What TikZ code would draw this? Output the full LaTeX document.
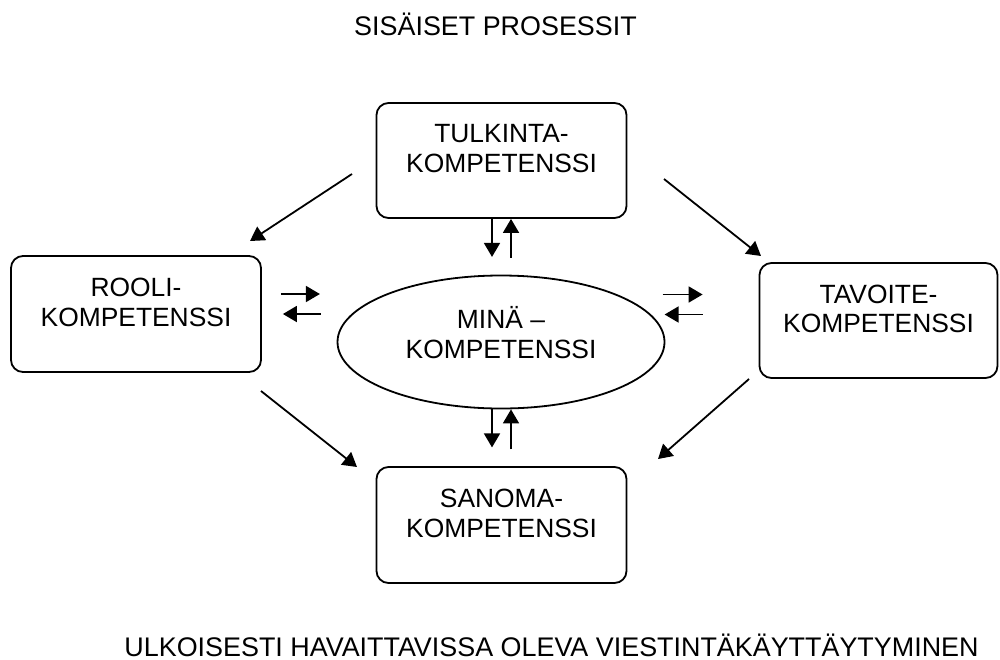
\documentclass[tikz,border=0pt]{standalone}
\usepackage{fontspec}
\setmainfont{Liberation Sans}
\usetikzlibrary{shapes.geometric,arrows.meta}

\begin{document}
\begin{tikzpicture}[x=0.5pt,y=-0.5pt]
\tikzset{kbox/.style = {draw, rounded corners=6pt, line width=0.9pt, align=center, inner sep=0pt, font=\fontsize{13.2}{14.8}\selectfont},
  arr/.style = {line width=0.9pt, -{Triangle[length=7pt,width=8pt]}},
  plain/.style = {inner sep=0pt, font=\fontsize{13.45}{15}\selectfont}}

\useasboundingbox (0,0) rectangle (1000,659);

\node[plain,anchor=base] (sisaiset) at (495.5,35) {SISÄISET PROSESSIT};
\node[plain,anchor=base] (ulkoiset) at (551.5,656) {ULKOISESTI HAVAITTAVISSA OLEVA VIESTINTÄKÄYTTÄYTYMINEN};

\node[kbox,minimum width=125pt,minimum height=57.5pt] (tulkinta) at (501.5,160.5) {TULKINTA-\\KOMPETENSSI\\[-3pt]\mbox{}};
\node[kbox,minimum width=125pt,minimum height=58pt] (rooli) at (136,314) {ROOLI-\\KOMPETENSSI\\[-3pt]\mbox{}};
\node[kbox,minimum width=119pt,minimum height=57.5pt] (tavoite) at (878.5,320.5) {TAVOITE-\\KOMPETENSSI\\[-3pt]\mbox{}};
\node[kbox,minimum width=125pt,minimum height=58pt] (sanoma) at (501.5,525) {SANOMA-\\KOMPETENSSI\\[-3pt]\mbox{}};
\node[kbox,ellipse,sharp corners,minimum width=163.5pt,minimum height=66.5pt] (mina) at (501,342) {MINÄ –\\KOMPETENSSI\\[-5.5pt]\mbox{}};

% diagonal arrows
\coordinate (tr1) at (352,174); \coordinate (tr2) at (250,241);
\coordinate (tt1) at (664,179); \coordinate (tt2) at (761,256);
\coordinate (rs1) at (261,391); \coordinate (rs2) at (357,467);
\coordinate (ts1) at (749,379); \coordinate (ts2) at (658,459);
\draw[arr] (tr1) -- (tr2);
\draw[arr] (tt1) -- (tt2);
\draw[arr] (rs1) -- (rs2);
\draw[arr] (ts1) -- (ts2);

% pairs to and from the ellipse
\draw[arr] ([xshift=-4.75pt]tulkinta.south) -- ++(0,38);
\draw[arr] ([xshift=4.75pt]tulkinta.south) ++(0,39) -- ++(0,-39);
\draw[arr] ([xshift=-4.5pt]mina.south) -- ++(0,38);
\draw[arr] ([xshift=5pt]mina.south) ++(0,40) -- ++(0,-40);
\draw[arr] ([yshift=10pt]rooli.east) ++(19,0) -- ++(39,0);
\draw[arr] ([yshift=0pt]rooli.east) ++(59,0) -- ++(-38,0);
\draw[arr] ([yshift=13pt]tavoite.west) ++(-96,0) -- ++(40,0);
\draw[arr] ([yshift=3pt]tavoite.west) ++(-56,0) -- ++(-38,0);
\end{tikzpicture}
\end{document}
